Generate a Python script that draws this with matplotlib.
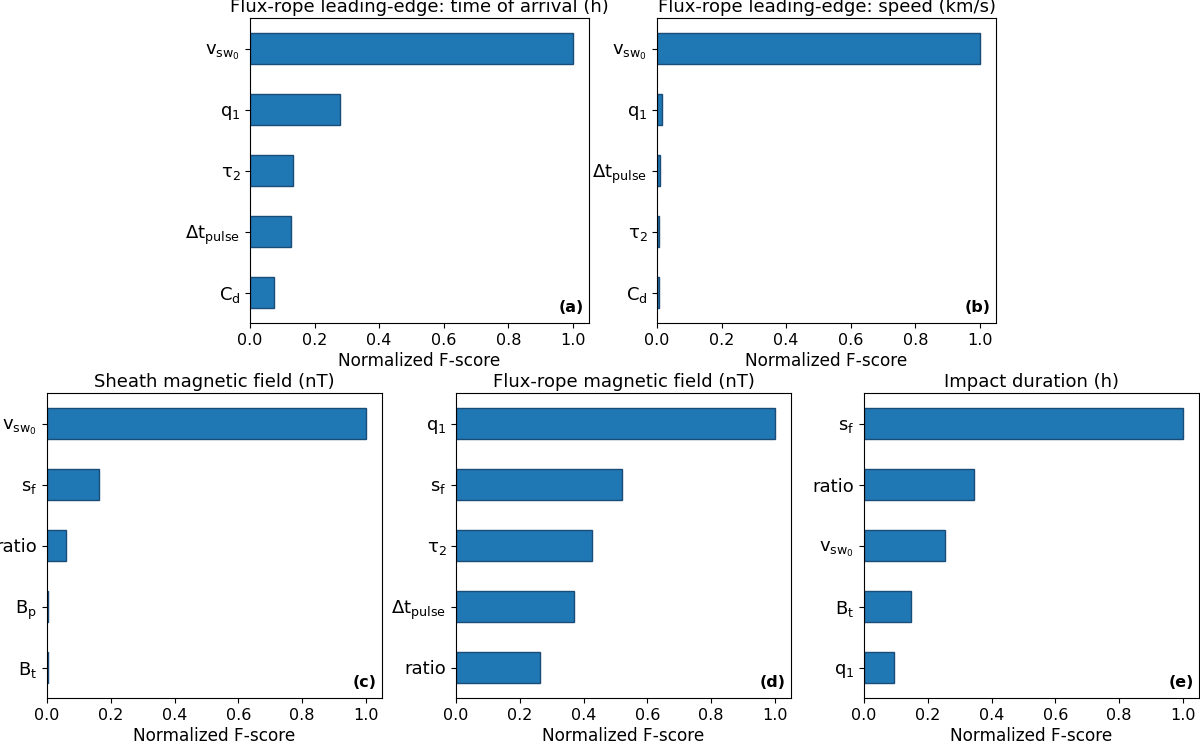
import matplotlib
matplotlib.use("Agg")
import matplotlib.pyplot as plt

plt.rcParams['mathtext.default'] = 'regular'
plt.rcParams['font.family'] = ['DejaVu Sans']

# Data (top to bottom as displayed)
labels_a = [r'$v_{sw_0}$', r'$q_1$', r'$\tau_2$', r'$\Delta t_{pulse}$', r'$C_d$']
values_a = [1.0, 0.279, 0.133, 0.126, 0.073]

labels_b = [r'$v_{sw_0}$', r'$q_1$', r'$\Delta t_{pulse}$', r'$\tau_2$', r'$C_d$']
values_b = [1.0, 0.015, 0.010, 0.007, 0.006]

labels_c = [r'$v_{sw_0}$', r'$s_f$', 'ratio', r'$B_p$', r'$B_t$']
values_c = [1.0, 0.163, 0.058, 0.004, 0.003]

labels_d = [r'$q_1$', r'$s_f$', r'$\tau_2$', r'$\Delta t_{pulse}$', 'ratio']
values_d = [1.0, 0.519, 0.427, 0.371, 0.262]

labels_e = [r'$s_f$', 'ratio', r'$v_{sw_0}$', r'$B_t$', r'$q_1$']
values_e = [1.0, 0.344, 0.253, 0.146, 0.095]

titles = ['Flux-rope leading-edge: time of arrival (h)',
          'Flux-rope leading-edge: speed (km/s)',
          'Sheath magnetic field (nT)',
          'Flux-rope magnetic field (nT)',
          'Impact duration (h)']
tags = ['(a)', '(b)', '(c)', '(d)', '(e)']

W, H = 1200, 742
fig = plt.figure(figsize=(W / 100, H / 100), dpi=100)

def rect(l, r, t, b):
    return [l / W, (H - b) / H, (r - l) / W, (b - t) / H]

rects = [rect(250, 589, 18, 323),
         rect(657, 996, 18, 323),
         rect(47, 382, 393, 698),
         rect(456, 791, 393, 698),
         rect(864, 1199, 393, 698)]

data = [(labels_a, values_a), (labels_b, values_b), (labels_c, values_c),
        (labels_d, values_d), (labels_e, values_e)]

for (labs, vals), r, title, tag in zip(data, rects, titles, tags):
    ax = fig.add_axes(r)
    labs_r = labs[::-1]
    vals_r = vals[::-1]
    pos = list(range(len(vals_r)))
    ax.barh(pos, vals_r, height=0.5, color='#1f77b4', edgecolor='#1a4c78', linewidth=1.0)
    ax.set_yticks(pos)
    ax.set_yticklabels(labs_r, fontsize=13)
    ax.set_ylim(-0.5, len(vals_r) - 0.5)
    ax.set_xlim(0, 1.05)
    ax.set_xticks([0.0, 0.2, 0.4, 0.6, 0.8, 1.0])
    ax.tick_params(axis='x', labelsize=11.5)
    ax.set_xlabel('Normalized F-score', fontsize=12.2, labelpad=3)
    ax.set_title(title, fontsize=13, pad=4)
    ax.text(0.985, 0.025, tag, transform=ax.transAxes, ha='right', va='bottom',
            fontsize=11.5, fontweight='bold')

fig.savefig('out.png', dpi=100)
